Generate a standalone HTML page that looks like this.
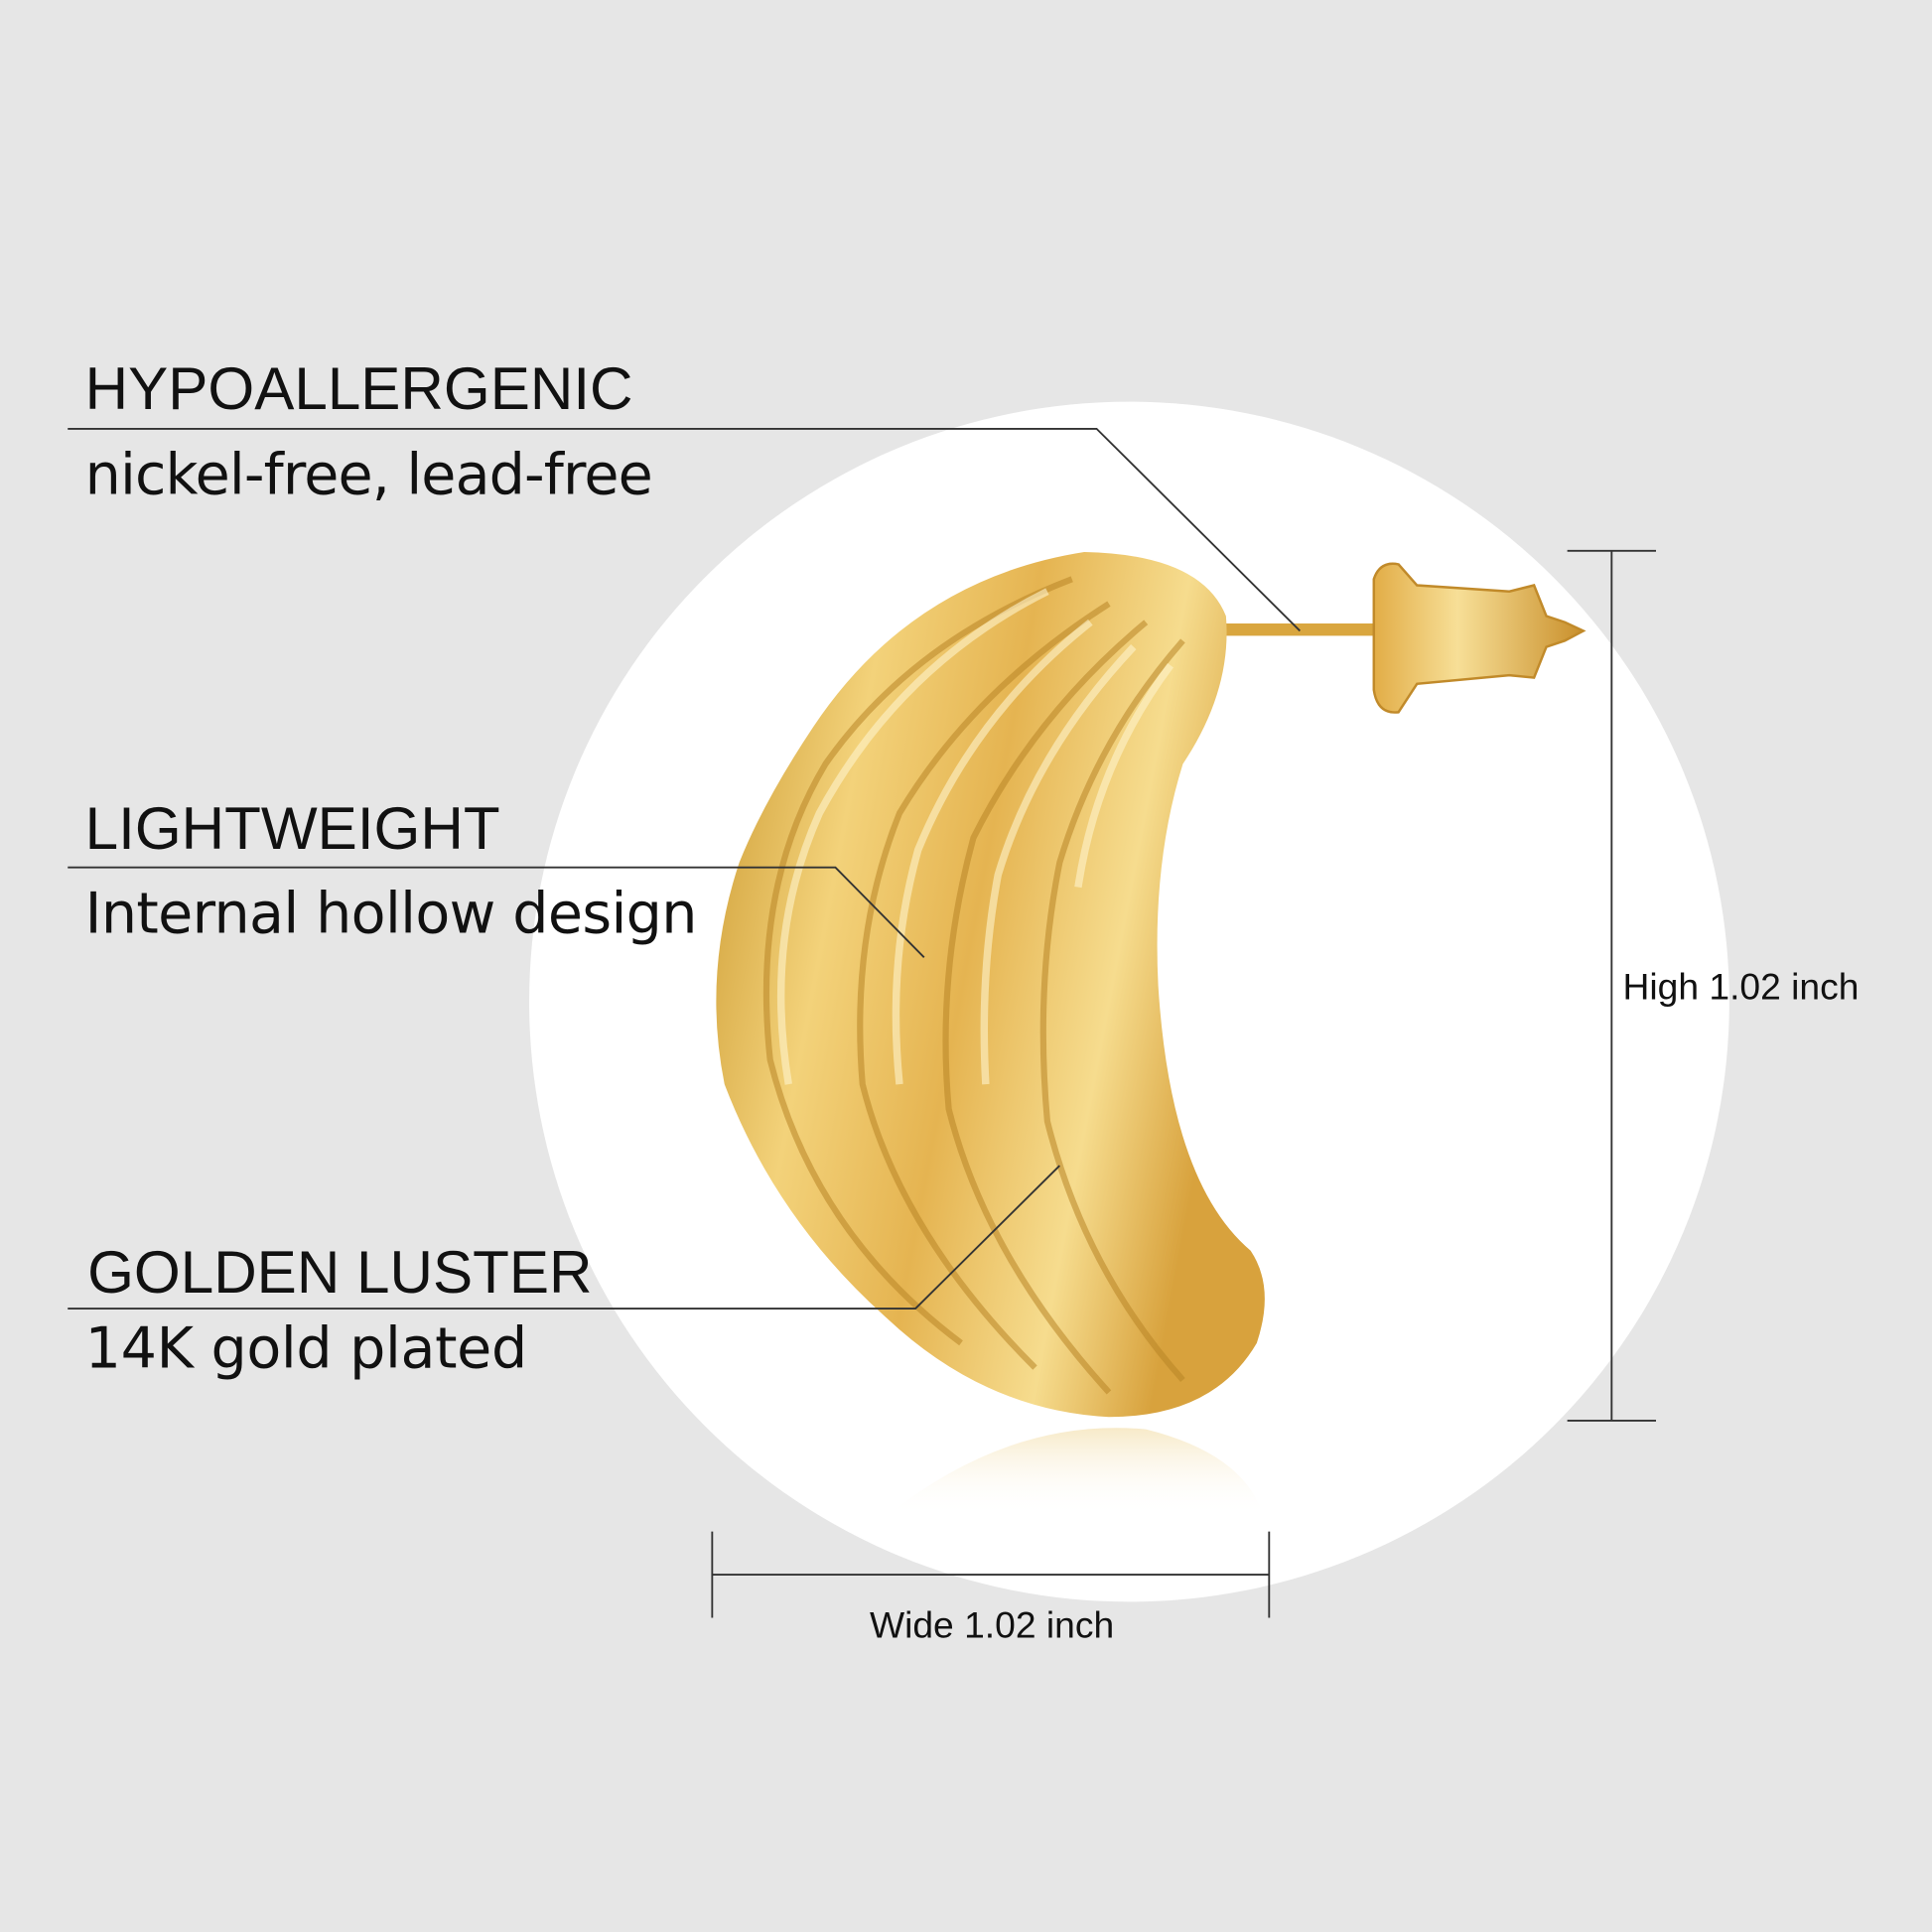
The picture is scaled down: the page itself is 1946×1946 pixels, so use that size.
<!DOCTYPE html>
<html><head><meta charset="utf-8"><style>
html,body{margin:0;padding:0;background:#e6e6e6;}
svg{display:block}
</style></head><body>
<svg width="1946" height="1946" viewBox="0 0 1568 1568" xmlns="http://www.w3.org/2000/svg">
<defs>
<linearGradient id="g" x1="0" y1="0" x2="1" y2="0.3">
<stop offset="0" stop-color="#c9962c"/>
<stop offset="0.3" stop-color="#f3d27a"/>
<stop offset="0.55" stop-color="#e5b451"/>
<stop offset="0.8" stop-color="#f6dc8e"/>
<stop offset="1" stop-color="#d8a23d"/>
</linearGradient>
<linearGradient id="b" x1="0" y1="0" x2="1" y2="0">
<stop offset="0" stop-color="#e2ad47"/>
<stop offset="0.4" stop-color="#f7df97"/>
<stop offset="1" stop-color="#c98f2b"/>
</linearGradient>
<linearGradient id="r" x1="0" y1="0" x2="0" y2="1">
<stop offset="0" stop-color="#f2dca4" stop-opacity="0.6"/>
<stop offset="1" stop-color="#ffffff" stop-opacity="0"/>
</linearGradient>
</defs>
<rect width="1568" height="1568" fill="#e6e6e6"/>
<circle cx="916.5" cy="813" r="487" fill="#fff"/>
<path d="M720 1230 Q820 1150 930 1160 Q1010 1180 1025 1230 Z" fill="url(#r)"/>
<rect x="995" y="506" width="125" height="10" fill="#d9a63f"/>
<path d="M1115 470 Q1120 455 1135 458 L1150 475 L1225 480 L1245 475 L1255 500 L1270 505 L1285 512 L1270 520 L1255 525 L1245 550 L1225 548 L1150 555 L1135 578 Q1118 580 1115 560 Z" fill="url(#b)" stroke="#c18a2a" stroke-width="2"/>
<path d="M880 448 Q975 450 995 500 Q1000 560 960 620 Q935 700 940 800 Q950 960 1015 1015 Q1035 1045 1020 1090 Q985 1150 900 1150 Q800 1145 720 1070 Q630 990 588 880 Q570 790 600 700 Q620 650 660 590 Q740 470 880 448 Z" fill="url(#g)"/>
<g fill="none" stroke="#b98526" stroke-width="5" opacity="0.55">
<path d="M870 470 Q740 520 670 620 Q610 720 625 860 Q660 1000 780 1090"/>
<path d="M900 490 Q790 560 730 660 Q690 760 700 880 Q730 1000 840 1110"/>
<path d="M930 505 Q840 580 790 680 Q760 790 770 900 Q800 1020 900 1130"/>
<path d="M960 520 Q890 600 860 700 Q840 800 850 910 Q880 1030 960 1120"/>
</g>
<g fill="none" stroke="#fff4cc" stroke-width="6" opacity="0.6">
<path d="M850 480 Q730 540 665 660 Q620 760 640 880"/>
<path d="M885 505 Q790 580 745 690 Q720 780 730 880"/>
<path d="M920 525 Q840 610 810 710 Q795 790 800 880"/>
<path d="M950 540 Q890 620 875 720"/>
</g>
<g stroke="#333" stroke-width="1.5" fill="none">
<polyline points="55,348 890,348 1055,512"/>
<polyline points="55,704 678,704 750,777"/>
<polyline points="55,1062 743,1062 860,946"/>
<line x1="1308" y1="447" x2="1308" y2="1153"/>
<line x1="1272" y1="447" x2="1344" y2="447"/>
<line x1="1272" y1="1153" x2="1344" y2="1153"/>
<line x1="578" y1="1278" x2="1030" y2="1278"/>
<line x1="578" y1="1243" x2="578" y2="1313"/>
<line x1="1030" y1="1243" x2="1030" y2="1313"/>
</g>
<g font-family="Liberation Sans, sans-serif" fill="#111">
<text x="69" y="332" font-size="48.5">HYPOALLERGENIC</text>
<text x="69" y="689" font-size="48.5">LIGHTWEIGHT</text>
<text x="71" y="1049" font-size="48.5">GOLDEN LUSTER</text>
<text x="1317" y="811" font-size="30">High 1.02 inch</text>
<text x="805" y="1329" font-size="30" text-anchor="middle">Wide 1.02 inch</text>
</g>
<g font-family="DejaVu Sans, sans-serif" fill="#111">
<text x="69" y="401" font-size="46" textLength="461">nickel-free, lead-free</text>
<text x="69" y="757" font-size="46" textLength="497">Internal hollow design</text>
<text x="69" y="1110" font-size="46" textLength="359">14K  gold plated</text>
</g>
</svg>
</body></html>
